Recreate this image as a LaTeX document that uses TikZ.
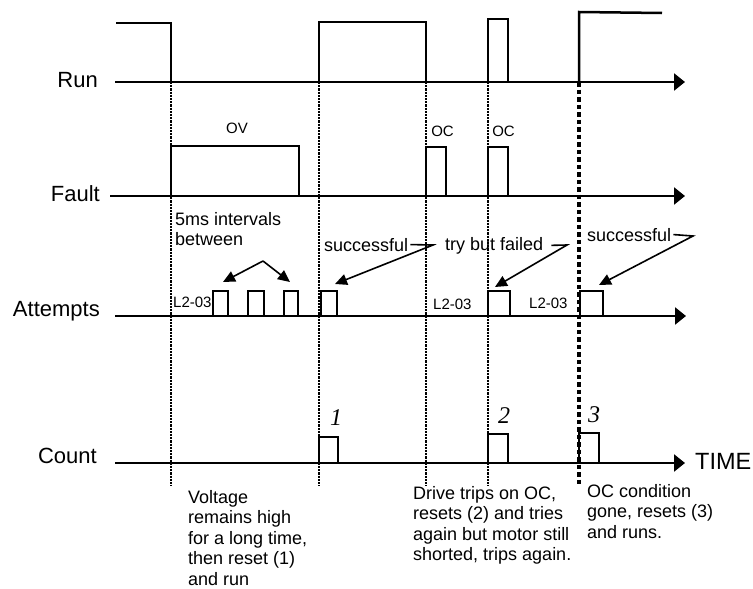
\documentclass[tikz,border=0pt]{standalone}
\usepackage{fontspec}
\setmainfont{Liberation Sans}
\newfontfamily\numfont{Liberation Serif}
\usetikzlibrary{arrows.meta}
\begin{document}
\begin{tikzpicture}[x=1pt,y=-1pt,
  sig/.style={line width=2.5pt, line join=miter},
  axis/.style={line width=2.5pt, -{Triangle[length=11pt,width=17pt]}},
  vdot/.style={line width=2.2pt, dash pattern=on 2.2pt off 1pt},
  vdotthick/.style={line width=3.4pt, dash pattern=on 4.5pt off 3pt},
  callout/.style={line width=1.6pt, -{Triangle[length=12pt,width=11pt]}},
  lbl/.style={inner sep=0pt, font=\fontsize{22}{24}\selectfont},
  body/.style={inner sep=0pt, align=left, anchor=north west, font=\fontsize{18}{20.5}\selectfont},
  note/.style={inner sep=0pt, font=\fontsize{18}{20}\selectfont},
  small/.style={inner sep=0pt, font=\fontsize{15}{17}\selectfont},
  num/.style={inner sep=0pt, anchor=base, font=\fontsize{24}{26}\selectfont\numfont\itshape},
]
\useasboundingbox (0,0) rectangle (753,589);

% dotted time markers
\foreach \x in {171,319,426,488} \draw[vdot] (\x,82) -- (\x,486);
\draw[vdotthick] (579,82) -- (579,487);

% Run
\draw[axis] (115,82) -- (685,82);
\draw[sig] (116,23) -- (171,23) -- (171,82);
\draw[sig] (319,82) -- (319,22) -- (426,22) -- (426,82);
\draw[sig] (488,82) -- (488,19) -- (508,19) -- (508,82);
\draw[sig] (579,82) -- (579,12) -- (662,13);

% Fault
\draw[axis] (110,196) -- (685,196);
\draw[sig] (171,196) -- (171,146) -- (299,146) -- (299,196);
\draw[sig] (426,196) -- (426,147) -- (446,147) -- (446,196);
\draw[sig] (488,196) -- (488,147) -- (508,147) -- (508,196);

% Attempts
\draw[axis] (115,316) -- (686,316);
\foreach \a/\b in {213/228,248/264,284/298,321/337,488/510,580/603}
  \draw[sig] (\a,316) -- (\a,291) -- (\b,291) -- (\b,316);

% Count
\draw[axis] (115,463) -- (685,463);
\draw[sig] (319,463) -- (319,437) -- (338,437) -- (338,463);
\draw[sig] (488,463) -- (488,434) -- (508,434) -- (508,463);
\draw[sig] (579,463) -- (579,433) -- (599,433) -- (599,463);

% signal labels
\node[lbl, anchor=base east] (run) at (98,87) {Run};
\node[lbl, anchor=base east] (fault) at (100,201) {Fault};
\node[lbl, anchor=base east] (att) at (100,316) {Attempts};
\node[lbl, anchor=base east] (cnt) at (97,463) {Count};
\node[lbl, anchor=base west, font=\fontsize{23.5}{25}\selectfont] (time) at (695,469) {TIME};

% small labels
\node[small, anchor=base] (ov) at (237,133) {OV};
\node[small, anchor=base] (oc1) at (442.5,136) {OC};
\node[small, anchor=base] (oc2) at (503.5,136) {OC};
\node[small, anchor=base west] (l1) at (173,307) {L2-03};
\node[small, anchor=base west] (l2) at (433,309) {L2-03};
\node[small, anchor=base west] (l3) at (529,308) {L2-03};

% count numbers
\node[num] (n1) at (336,425) {1};
\node[num] (n2) at (504,423) {2};
\node[num] (n3) at (594,422) {3};

% annotations
\node[body, font=\fontsize{18}{20}\selectfont] (ms) at (175,212) {5ms intervals\\between};
\coordinate (apex) at (263,261);
\coordinate (msL) at (223,282);
\coordinate (msR) at (290,282);
\draw[callout] (apex) -- (msL);
\draw[callout] (apex) -- (msR);

\node[note, anchor=base west] (succ1) at (324,251) {successful};
\coordinate (s1k) at (433,245);
\coordinate (s1t) at (335,284);
\draw[callout] ([xshift=2pt]succ1.east) -- (s1k) -- (s1t);

\node[note, anchor=base west] (fail) at (445,250) {try but failed};
\coordinate (f1k) at (567,245);
\coordinate (f1t) at (495,287);
\draw[callout] ([xshift=8pt]fail.east) -- (f1k) -- (f1t);

\node[note, anchor=base west] (succ2) at (587,241) {successful};
\coordinate (s2k) at (693,236);
\coordinate (s2t) at (599,285);
\draw[callout] ([xshift=2pt]succ2.east) -- (s2k) -- (s2t);

% bottom explanations
\node[body] (t1) at (188,490) {Voltage\\remains high\\for a long time,\\then reset (1)\\and run};
\node[body] (t2) at (413,486) {Drive trips on OC,\\resets (2) and tries\\again but motor still\\shorted, trips again.};
\node[body] (t3) at (587,484) {OC condition\\gone, resets (3)\\and runs.};
\end{tikzpicture}
\end{document}
